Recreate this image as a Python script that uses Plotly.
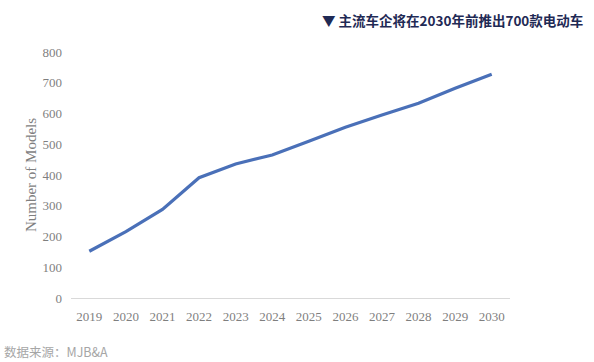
import plotly.graph_objects as go

years = ["2019", "2020", "2021", "2022", "2023", "2024", "2025", "2026", "2027", "2028", "2029", "2030"]
models = [152, 216, 288, 391, 436, 465, 510, 555, 595, 633, 682, 728]
y_ticks = [0, 100, 200, 300, 400, 500, 600, 700, 800]

title_text = "▼ 主流车企将在2030年前推出700款电动车"
source_text = "数据来源：MJB&A"

W, H = 594, 362
l, r, t, b = 71, 84, 52, 64
pw, ph = W - l - r, H - t - b

def px(xp):
    return (xp - l) / pw

def py(yp):
    return (H - b - yp) / ph

fig = go.Figure()
fig.add_trace(go.Scatter(
    x=years, y=models, mode="lines",
    line=dict(color="#4a70b8", width=3.2),
    hoverinfo="skip",
))

axis_font = dict(family="Liberation Serif, Times New Roman, serif", size=13, color="#7f7f7f")

fig.update_layout(
    width=W, height=H,
    margin=dict(l=l, r=r, t=t, b=b),
    paper_bgcolor="white", plot_bgcolor="white",
    showlegend=False,
    xaxis=dict(
        type="category", range=[-0.5, 11.5],
        showgrid=False, zeroline=False,
        showline=True, linecolor="#d9d9d9", linewidth=1,
        ticks="", tickfont=axis_font, ticklabelstandoff=6,
    ),
    yaxis=dict(
        range=[0, 800], tickvals=y_ticks,
        showgrid=False, zeroline=False, showline=False,
        ticks="", tickfont=axis_font, ticklabelstandoff=8,
        title=dict(text="Number of Models",
                   font=dict(family="Liberation Serif, Times New Roman, serif", size=15, color="#7f7f7f"),
                   standoff=2),
    ),
)

fig.add_annotation(text="<b>" + title_text + "</b>",
                   x=px(585), y=py(20),
                   xref="paper", yref="paper", xanchor="right", yanchor="middle",
                   showarrow=False,
                   font=dict(family="Noto Sans CJK SC, sans-serif", size=13.5, color="#1f2a55"))
fig.add_annotation(text=source_text,
                   x=px(2), y=py(351),
                   xref="paper", yref="paper", xanchor="left", yanchor="middle",
                   showarrow=False,
                   font=dict(family="Noto Sans CJK SC, sans-serif", size=12.5, color="#a6a6a6"))

fig.write_html("out.html", config={"displayModeBar": False},
               post_script="document.body.style.margin='0px';")
